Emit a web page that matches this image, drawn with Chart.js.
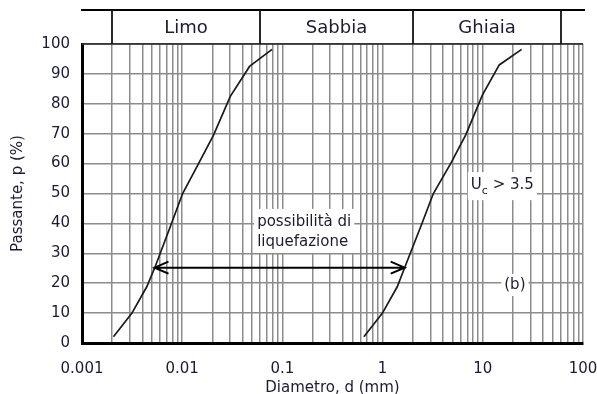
<!DOCTYPE html>
<html lang="it">
<head>
<meta charset="UTF-8">
<title>Fuso granulometrico - possibilità di liquefazione</title>
<script src="https://cdn.jsdelivr.net/npm/chart.js"></script>
<style>
  html, body { margin: 0; padding: 0; background: #fff; }
  .chart-box { width: 597px; height: 394px; }
</style>
</head>
<body>
<div class="chart-box"><canvas id="fusoChart"></canvas></div>
<script>
// Fuso granulometrico: limite fine (sinistra) e limite grosso (destra)
const leftD  = [0.00206, 0.00314, 0.00443, 0.00537, 0.0076, 0.0101, 0.0146, 0.0206, 0.0302, 0.047, 0.0788];
const leftP  = [2.1, 9.9, 18.8, 25.5, 38.9, 50, 60.1, 69.6, 82.5, 92.5, 98.2];
const rightD = [0.65, 0.993, 1.40, 1.70, 2.40, 3.21, 4.79, 6.76, 9.93, 14.6, 24.4];
const rightP = [2.1, 9.9, 18.8, 26.1, 38.9, 50, 60.1, 69.6, 83, 93, 98.2];

// classi granulometriche (intestazione)
const classBounds = [0.002, 0.06, 2, 60];
const classNames = ['Limo', 'Sabbia', 'Ghiaia'];

// assi
const decades = [0.001, 0.01, 0.1, 1, 10, 100];
const decadeLabels = ['0.001', '0.01', '0.1', '1', '10', '100'];
const yTicks = [0, 10, 20, 30, 40, 50, 60, 70, 80, 90, 100];

// annotazioni (in coordinate dei dati)
const arrowP = 25.2, arrowFrom = 0.00517, arrowTo = 1.70;
const noteLines = ['possibilità di', 'liquefazione'];
const noteD = 0.056, noteP = [40.5, 33.8];
const ucD = 7.6, ucP = 52.8;
const tagText = '(b)', tagD = 20.9, tagP = 19.4;

const FONT = 'DejaVu Sans';
const TEXT = '#1b1b33';

const pts = (xs, ys) => xs.map((x, i) => ({x: x, y: ys[i]}));

// tick del reticolo logaritmico: 1..9 per ogni decade
const logGrid = [];
decades.forEach((d, i) => {
    logGrid.push(d);
    if (i < decades.length - 1) {
        for (let m = 2; m <= 9; m++) logGrid.push(+(m * d).toPrecision(3));
    }
});

function boxedText(ctx, text, x, y, align) {
    const w = ctx.measureText(text).width;
    const left = align === 'center' ? x - w / 2 : x;
    ctx.fillStyle = '#fff';
    ctx.fillRect(left - 3, y - 11, w + 6, 22);
    ctx.fillStyle = TEXT;
    ctx.textAlign = align;
    ctx.fillText(text, x, y);
}

const headerPlugin = {
    id: 'header',
    afterDraw(chart) {
        const {ctx, chartArea, scales: {x}} = chart;
        const top = 10, bottom = chartArea.top;
        ctx.save();
        ctx.strokeStyle = '#000';
        ctx.lineWidth = 2;
        ctx.beginPath();
        ctx.moveTo(chartArea.left - 1, top);
        ctx.lineTo(chartArea.right + 2, top);
        ctx.stroke();

        ctx.strokeStyle = '#333';
        ctx.lineWidth = 1.5;
        ctx.beginPath();
        ctx.moveTo(chartArea.left, bottom);
        ctx.lineTo(chartArea.right, bottom);
        ctx.stroke();

        ctx.strokeStyle = '#111';
        ctx.lineWidth = 1.8;
        const px = classBounds.map(v => Math.round(x.getPixelForValue(v)));
        px.forEach(p => {
            ctx.beginPath();
            ctx.moveTo(p, top);
            ctx.lineTo(p, bottom);
            ctx.stroke();
        });

        ctx.font = '18px "' + FONT + '"';
        ctx.fillStyle = TEXT;
        ctx.textAlign = 'center';
        ctx.textBaseline = 'middle';
        classNames.forEach((name, i) => {
            ctx.fillText(name, (px[i] + px[i + 1]) / 2, (top + bottom) / 2 + 1);
        });
        ctx.restore();
    }
};

const notesPlugin = {
    id: 'notes',
    beforeDatasetsDraw(chart) {
        const {ctx, scales: {x, y}} = chart;
        ctx.save();
        ctx.font = '15px "' + FONT + '"';
        ctx.textBaseline = 'middle';

        // riquadro bianco comune per le due righe
        const nx = x.getPixelForValue(noteD);
        const w = Math.max(...noteLines.map(t => ctx.measureText(t).width));
        const y1 = y.getPixelForValue(noteP[0]), y2 = y.getPixelForValue(noteP[1]);
        ctx.fillStyle = '#fff';
        ctx.fillRect(nx - 3, y1 - 13, w + 6, y2 - y1 + 24);
        ctx.fillStyle = TEXT;
        ctx.textAlign = 'left';
        noteLines.forEach((t, i) => ctx.fillText(t, nx, y.getPixelForValue(noteP[i])));

        // U_c > 3.5
        const ux = x.getPixelForValue(ucD), uy = y.getPixelForValue(ucP);
        const wU = ctx.measureText('U').width;
        ctx.font = '11px "' + FONT + '"';
        const wc = ctx.measureText('c').width;
        ctx.font = '15px "' + FONT + '"';
        const wR = ctx.measureText(' > 3.5').width;
        ctx.fillStyle = '#fff';
        ctx.fillRect(ux - 3, uy - 13, wU + wc + wR + 6, 28);
        ctx.fillStyle = TEXT;
        ctx.fillText('U', ux, uy);
        ctx.fillText(' > 3.5', ux + wU + wc, uy);
        ctx.font = '11px "' + FONT + '"';
        ctx.fillText('c', ux + wU, uy + 6);

        // (b)
        ctx.font = '15px "' + FONT + '"';
        boxedText(ctx, tagText, x.getPixelForValue(tagD), y.getPixelForValue(tagP), 'center');
        ctx.restore();
    },
    afterDatasetsDraw(chart) {
        const {ctx, scales: {x, y}} = chart;
        const ay = y.getPixelForValue(arrowP);
        const x1 = x.getPixelForValue(arrowFrom), x2 = x.getPixelForValue(arrowTo);
        ctx.save();
        ctx.strokeStyle = '#000';
        ctx.lineWidth = 2;
        ctx.beginPath();
        ctx.moveTo(x1, ay);
        ctx.lineTo(x2, ay);
        // punte aperte
        ctx.moveTo(x1 + 15, ay - 6);
        ctx.lineTo(x1 + 1, ay);
        ctx.lineTo(x1 + 15, ay + 6);
        ctx.moveTo(x2 - 15, ay - 6);
        ctx.lineTo(x2 - 1, ay);
        ctx.lineTo(x2 - 15, ay + 6);
        ctx.stroke();
        ctx.restore();
    }
};

const curveStyle = {
    showLine: true,
    borderColor: '#1a1a1a',
    borderWidth: 1.7,
    pointRadius: 0,
    tension: 0,
    fill: false
};

new Chart(document.getElementById('fusoChart'), {
    type: 'scatter',
    data: {
        datasets: [
            Object.assign({label: 'limite fine', data: pts(leftD, leftP)}, curveStyle),
            Object.assign({label: 'limite grosso', data: pts(rightD, rightP)}, curveStyle)
        ]
    },
    options: {
        responsive: true,
        maintainAspectRatio: false,
        animation: false,
        layout: { padding: { top: 44, right: 0, bottom: 0, left: 0 } },
        plugins: {
            legend: { display: false },
            tooltip: { enabled: false }
        },
        scales: {
            x: {
                type: 'logarithmic',
                min: 0.001,
                max: 100,
                afterBuildTicks: axis => { axis.ticks = logGrid.map(v => ({value: v})); },
                afterFit: axis => { axis.height = 51; axis.paddingRight = 14; },
                grid: { color: '#8c8c8c', lineWidth: 1.5, drawTicks: false },
                border: { display: true, color: '#000', width: 3 },
                ticks: {
                    autoSkip: false,
                    maxRotation: 0,
                    padding: 17,
                    color: TEXT,
                    font: { family: FONT, size: 15 },
                    callback: value => {
                        const i = decades.findIndex(d => Math.abs(d - value) < d * 1e-6);
                        return i >= 0 ? decadeLabels[i] : '';
                    }
                },
                title: {
                    display: true,
                    text: 'Diametro, d (mm)',
                    color: TEXT,
                    font: { family: FONT, size: 15 },
                    padding: { top: 0, bottom: -3 }
                }
            },
            y: {
                min: 0,
                max: 100,
                afterBuildTicks: axis => { axis.ticks = yTicks.map(v => ({value: v})); },
                afterFit: axis => { axis.width = 82; },
                grid: {
                    color: c => (c.tick && c.tick.value === 100 ? '#444' : '#8c8c8c'),
                    lineWidth: 1.5,
                    drawTicks: false
                },
                border: { display: true, color: '#000', width: 3 },
                ticks: {
                    padding: 12,
                    color: TEXT,
                    font: { family: FONT, size: 15 }
                },
                title: {
                    display: true,
                    text: 'Passante, p (%)',
                    color: TEXT,
                    font: { family: FONT, size: 15 },
                    padding: { top: 9, bottom: 0 }
                }
            }
        }
    },
    plugins: [headerPlugin, notesPlugin]
});
</script>
</body>
</html>
